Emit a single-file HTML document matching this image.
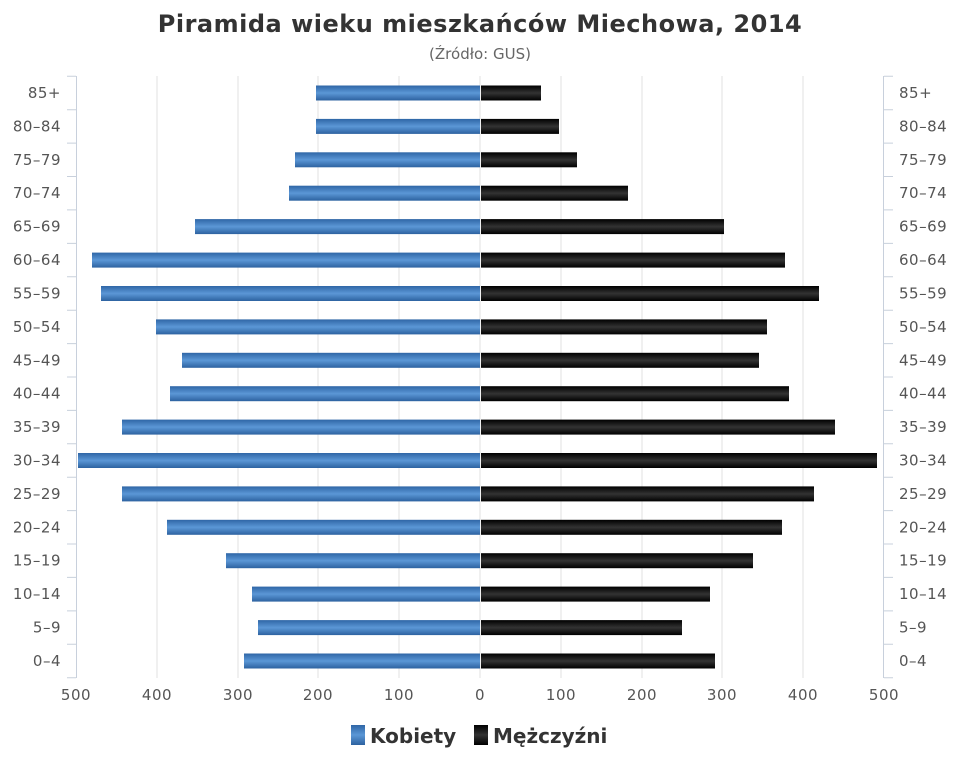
<!DOCTYPE html>
<html><head><meta charset="utf-8"><style>
body{margin:0;background:#fff}
svg{display:block;font-family:"DejaVu Sans","Liberation Sans",sans-serif}
.l{font-size:15px;fill:#555;letter-spacing:0.5px}
</style></head><body>
<svg width="960" height="768" xmlns="http://www.w3.org/2000/svg">
<defs>
<linearGradient id="b" x1="0" y1="0" x2="0" y2="1"><stop offset="0" stop-color="#2f66a6"/><stop offset="0.5" stop-color="#5b97d6"/><stop offset="1" stop-color="#2d62a0"/></linearGradient>
<linearGradient id="k" x1="0" y1="0" x2="0" y2="1"><stop offset="0" stop-color="#000"/><stop offset="0.5" stop-color="#333"/><stop offset="1" stop-color="#000"/></linearGradient>
</defs>
<text x="480" y="32" text-anchor="middle" font-size="24" font-weight="bold" fill="#333" letter-spacing="0.5">Piramida wieku mieszkańców Miechowa, 2014</text>
<text x="480" y="59" text-anchor="middle" font-size="15" fill="#666">(Źródło: GUS)</text>
<g stroke="#e0e0e0" stroke-width="1">
<line x1="157" y1="76" x2="157" y2="678"/><line x1="238" y1="76" x2="238" y2="678"/><line x1="318" y1="76" x2="318" y2="678"/><line x1="399" y1="76" x2="399" y2="678"/><line x1="480" y1="76" x2="480" y2="678"/><line x1="561" y1="76" x2="561" y2="678"/><line x1="642" y1="76" x2="642" y2="678"/><line x1="722" y1="76" x2="722" y2="678"/><line x1="803" y1="76" x2="803" y2="678"/>
</g>
<g stroke="#c8d0dc" stroke-width="1">
<line x1="76.5" y1="76" x2="76.5" y2="678"/><line x1="883.5" y1="76" x2="883.5" y2="678"/>
<path d="M67 76.3H76M67 109.7H76M67 143.1H76M67 176.5H76M67 209.9H76M67 243.4H76M67 276.8H76M67 310.2H76M67 343.6H76M67 377H76M67 410.4H76M67 443.8H76M67 477.2H76M67 510.6H76M67 544H76M67 577.4H76M67 610.9H76M67 644.3H76M67 677.7H76"/>
<path d="M884 76.3H893M884 109.7H893M884 143.1H893M884 176.5H893M884 209.9H893M884 243.4H893M884 276.8H893M884 310.2H893M884 343.6H893M884 377H893M884 410.4H893M884 443.8H893M884 477.2H893M884 510.6H893M884 544H893M884 577.4H893M884 610.9H893M884 644.3H893M884 677.7H893"/>
</g>
<g fill="url(#b)">
<rect x="316" y="85.5" width="164" height="15"/>
<rect x="316" y="118.9" width="164" height="15"/>
<rect x="295" y="152.3" width="185" height="15"/>
<rect x="289" y="185.7" width="191" height="15"/>
<rect x="195" y="219.1" width="285" height="15"/>
<rect x="92" y="252.6" width="388" height="15"/>
<rect x="101" y="286" width="379" height="15"/>
<rect x="156" y="319.4" width="324" height="15"/>
<rect x="182" y="352.8" width="298" height="15"/>
<rect x="170" y="386.2" width="310" height="15"/>
<rect x="122" y="419.6" width="358" height="15"/>
<rect x="78" y="453" width="402" height="15"/>
<rect x="122" y="486.4" width="358" height="15"/>
<rect x="167" y="519.8" width="313" height="15"/>
<rect x="226" y="553.2" width="254" height="15"/>
<rect x="252" y="586.6" width="228" height="15"/>
<rect x="258" y="620.1" width="222" height="15"/>
<rect x="244" y="653.5" width="236" height="15"/>
</g>
<g fill="url(#k)">
<rect x="481" y="85.5" width="60" height="15"/>
<rect x="481" y="118.9" width="78" height="15"/>
<rect x="481" y="152.3" width="96" height="15"/>
<rect x="481" y="185.7" width="147" height="15"/>
<rect x="481" y="219.1" width="243" height="15"/>
<rect x="481" y="252.6" width="304" height="15"/>
<rect x="481" y="286" width="338" height="15"/>
<rect x="481" y="319.4" width="286" height="15"/>
<rect x="481" y="352.8" width="278" height="15"/>
<rect x="481" y="386.2" width="308" height="15"/>
<rect x="481" y="419.6" width="354" height="15"/>
<rect x="481" y="453" width="396" height="15"/>
<rect x="481" y="486.4" width="333" height="15"/>
<rect x="481" y="519.8" width="301" height="15"/>
<rect x="481" y="553.2" width="272" height="15"/>
<rect x="481" y="586.6" width="229" height="15"/>
<rect x="481" y="620.1" width="201" height="15"/>
<rect x="481" y="653.5" width="234" height="15"/>
</g>
<g class="l" text-anchor="end">
<text x="61" y="98">85+</text><text x="61" y="131.4">80–84</text><text x="61" y="164.8">75–79</text><text x="61" y="198.2">70–74</text><text x="61" y="231.6">65–69</text><text x="61" y="265.1">60–64</text><text x="61" y="298.5">55–59</text><text x="61" y="331.9">50–54</text><text x="61" y="365.3">45–49</text><text x="61" y="398.7">40–44</text><text x="61" y="432.1">35–39</text><text x="61" y="465.5">30–34</text><text x="61" y="498.9">25–29</text><text x="61" y="532.3">20–24</text><text x="61" y="565.7">15–19</text><text x="61" y="599.1">10–14</text><text x="61" y="632.6">5–9</text><text x="61" y="666">0–4</text>
</g>
<g class="l">
<text x="899" y="98">85+</text><text x="899" y="131.4">80–84</text><text x="899" y="164.8">75–79</text><text x="899" y="198.2">70–74</text><text x="899" y="231.6">65–69</text><text x="899" y="265.1">60–64</text><text x="899" y="298.5">55–59</text><text x="899" y="331.9">50–54</text><text x="899" y="365.3">45–49</text><text x="899" y="398.7">40–44</text><text x="899" y="432.1">35–39</text><text x="899" y="465.5">30–34</text><text x="899" y="498.9">25–29</text><text x="899" y="532.3">20–24</text><text x="899" y="565.7">15–19</text><text x="899" y="599.1">10–14</text><text x="899" y="632.6">5–9</text><text x="899" y="666">0–4</text>
</g>
<g class="l" text-anchor="middle">
<text x="76" y="700">500</text><text x="157" y="700">400</text><text x="238" y="700">300</text><text x="318" y="700">200</text><text x="399" y="700">100</text><text x="480" y="700">0</text><text x="561" y="700">100</text><text x="642" y="700">200</text><text x="722" y="700">300</text><text x="803" y="700">400</text><text x="884" y="700">500</text>
</g>
<rect x="351" y="725" width="14" height="20" fill="url(#b)"/>
<text x="370" y="743" font-size="20" font-weight="bold" fill="#333">Kobiety</text>
<rect x="474" y="725" width="14" height="20" fill="url(#k)"/>
<text x="493" y="743" font-size="20" font-weight="bold" fill="#333">Mężczyźni</text>
</svg>
</body></html>
